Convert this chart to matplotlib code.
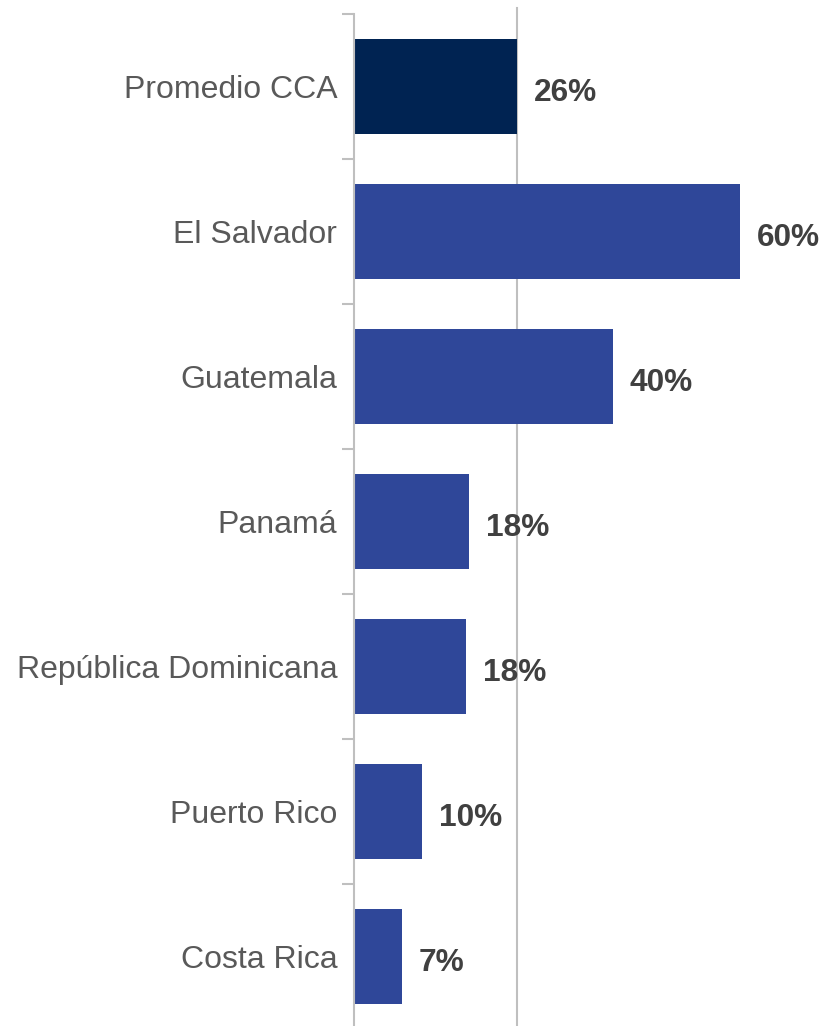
import matplotlib
matplotlib.use('Agg')
import matplotlib.pyplot as plt

# DATA
countries = ["Promedio CCA", "El Salvador", "Guatemala", "Panamá",
             "República Dominicana", "Puerto Rico", "Costa Rica"]
values = [25.4, 60.0, 40.2, 17.9, 17.4, 10.6, 7.5]
labels = ["26%", "60%", "40%", "18%", "18%", "10%", "7%"]
colors = ["#002352", "#2F4799", "#2F4799", "#2F4799", "#2F4799", "#2F4799", "#2F4799"]

plt.rcParams['font.family'] = ['Liberation Sans', 'DejaVu Sans']

fig = plt.figure(figsize=(8.26, 10.26), dpi=100)
ax = fig.add_axes([354 / 826, -3 / 1026, 472 / 826, 1015 / 1026])

ypos = list(range(len(countries)))
ax.barh(ypos, values, height=0.65, color=colors, zorder=2)
ax.set_ylim(len(countries) - 0.5, -0.5)
ax.set_xlim(0, 73.4)

# reference line at the average
ax.axvline(values[0], color='#BFBFBF', lw=1.5, zorder=1, ymin=0, ymax=1.006, clip_on=False)

for y, v, t in zip(ypos, values, labels):
    ax.text(v + 2.6, y + 0.02, t, va='center_baseline', ha='left', fontsize=22.8,
            fontweight='bold', color='#404040')

ax.set_yticks(ypos)
ax.set_yticklabels(countries, fontsize=23, color='#595959')
ax.set_yticks([y + 0.5 for y in ypos] + [-0.5], minor=True)
ax.tick_params(axis='y', which='major', length=0, pad=12)
ax.tick_params(axis='y', which='minor', length=9, width=1.5, color='#BFBFBF')
ax.set_xticks([])

for s in ['top', 'right', 'bottom']:
    ax.spines[s].set_visible(False)
ax.spines['left'].set_color('#BFBFBF')
ax.spines['left'].set_linewidth(1.5)

plt.savefig('out.png', dpi=100)
